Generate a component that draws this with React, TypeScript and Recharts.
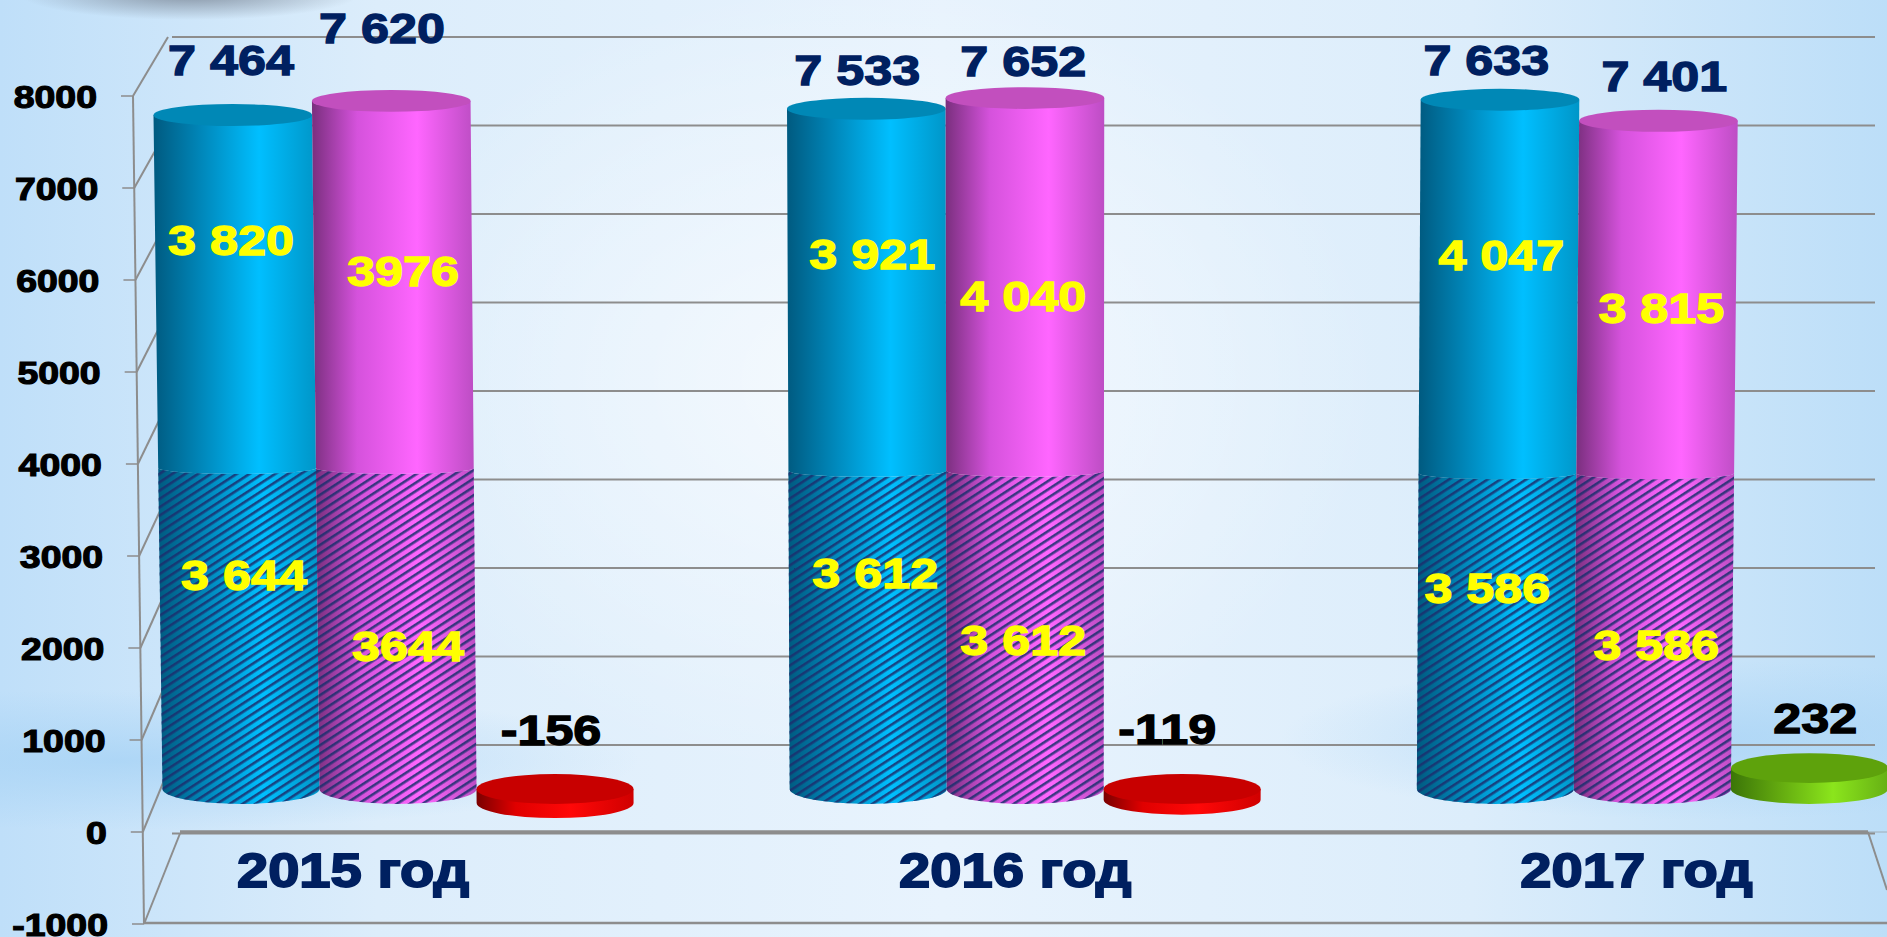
import { BarChart, Bar, XAxis, YAxis, CartesianGrid, LabelList } from "recharts"

const years = ["2015 год", "2016 год", "2017 год"]
const blueLower = [3644, 3612, 3586]
const blueUpper = [3820, 3921, 4047]
const pinkLower = [3644, 3612, 3586]
const pinkUpper = [3976, 4040, 3815]
const balance = [-156, -119, 232]
const axisTicks = [-1000, 0, 1000, 2000, 3000, 4000, 5000, 6000, 7000, 8000]

const blueTotalText = ["7 464", "7 533", "7 633"]
const pinkTotalText = ["7 620", "7 652", "7 401"]
const blueUpperText = ["3 820", "3 921", "4 047"]
const pinkUpperText = ["3976", "4 040", "3 815"]
const blueLowerText = ["3 644", "3 612", "3 586"]
const pinkLowerText = ["3644", "3 612", "3 586"]
const balanceText = ["-156", "-119", "232"]

const data = years.map((year, i) => ({
  year,
  blueLower: blueLower[i],
  blueUpper: blueUpper[i],
  pinkLower: pinkLower[i],
  pinkUpper: pinkUpper[i],
  balance: balance[i],
}))

const W = 1887
const H = 937
const PLOT_TOP = 20
const PLOT_BOTTOM = 930
const FLOOR_Y = 789
const VANISH_X = 1048
const FONT = "'Liberation Sans', Arial, sans-serif"
const GREY = "#8d8d8d"
const STRETCH = 1.17

// the picture is a 3D chart: front axis, back wall and bars each sit on their own scale
const domainFor = (zeroPx: number, pxPer1000: number): [number, number] => [
  ((zeroPx - PLOT_BOTTOM) / pxPer1000) * 1000,
  ((zeroPx - PLOT_TOP) / pxPer1000) * 1000,
]
const frontX = (v: number) => 133 + ((8000 - v) / 9000) * 11
const frontY = (v: number) => 832 - v * 0.092
const wallX = (v: number) => 168 + ((8000 - v) / 9000) * 12
const wallY = (v: number) => 745 - v * 0.0885

const lean = (x: number, y: number) => x + (x - VANISH_X) * 1.51e-5 * (FLOOR_Y - y)
const radiusY = (y: number) => 15 - ((FLOOR_Y - y) / 674) * 4

const tops: Record<string, string> = { blue: "#0088b6", pink: "#c24fbe", red: "#c80000", green: "#5ea20c" }

function Cylinder(props: any) {
  const { x, y, width, height, look, part } = props
  const top = Math.min(y, y + height)
  const bottom = Math.max(y, y + height)
  const seam = 8
  const upTo = part === "lower" ? top + seam : top
  const downTo = part === "upper" ? bottom + seam : bottom
  const lt = lean(x, upTo)
  const rt = lean(x + width, upTo)
  const lb = lean(x, downTo)
  const rb = lean(x + width, downTo)
  const rxT = (rt - lt) / 2
  const rxB = (rb - lb) / 2
  const ryT = part === "lower" ? 6 : radiusY(upTo)
  const ryB = part === "upper" ? 6 : 15
  const d =
    `M${lt},${upTo} L${lb},${downTo} A${rxB},${ryB} 0 0 0 ${rb},${downTo} ` +
    `L${rt},${upTo} ` +
    (part === "lower" ? `A${rxT},${ryT} 0 0 1 ${lt},${upTo} Z` : "Z")
  return (
    <g>
      <path d={d} fill={`url(#body-${look})`} />
      {part === "lower" && <path d={d} fill="url(#hatch)" />}
      {part !== "lower" && <ellipse cx={(lt + rt) / 2} cy={upTo} rx={rxT} ry={ryT} fill={tops[look]} />}
    </g>
  )
}

// the reference type is a heavy Arial pulled wide, hence the stretch and the outline
function WideText({ x, y, size, color, weight, anchor = "middle", children }: any) {
  return (
    <text
      transform={`translate(${x},${y}) scale(${STRETCH},1)`}
      dy="0.36em"
      textAnchor={anchor}
      fontFamily={FONT}
      fontWeight="bold"
      fontSize={size}
      stroke={color}
      strokeWidth={weight}
      fill={color}
    >
      {children}
    </text>
  )
}

function makeLabel(texts: string[], dx: number[], dy: number[], color: string, mode: "mid" | "top") {
  return (p: any) => {
    const i = p.index
    const h = Number(p.height)
    const top = Math.min(Number(p.y), Number(p.y) + h)
    const cy = mode === "mid" ? top + Math.abs(h) / 2 : top
    return (
      <WideText x={Number(p.x) + Number(p.width) / 2 + dx[i]} y={cy + dy[i]} size={43} color={color} weight={1.3}>
        {texts[i]}
      </WideText>
    )
  }
}

function ValueTick(props: any) {
  const v = props.payload.value
  const fx = frontX(v)
  return (
    <g>
      <line x1={fx - 12} y1={props.y} x2={fx} y2={props.y} stroke={GREY} strokeWidth={1.5} />
      <WideText x={fx - 36} y={props.y} size={32} color="#000" weight={1.2} anchor="end">
        {v}
      </WideText>
    </g>
  )
}

const yearShift = [-45, -10, -16]

function YearTick(props: any) {
  return (
    <WideText x={props.x + yearShift[props.index]} y={870} size={48} color="#002060" weight={1.8}>
      {props.payload.value}
    </WideText>
  )
}

function Frame() {
  return (
    <g stroke={GREY} fill="none">
      <line x1={frontX(8000)} y1={frontY(8000)} x2={frontX(-1000)} y2={frontY(-1000)} strokeWidth={2} />
      <line x1={frontX(-1000)} y1={923} x2={W} y2={923} strokeWidth={2.5} />
      <line x1={1868} y1={832} x2={1887} y2={890} strokeWidth={2} />
      <line x1={1868} y1={832} x2={1887} y2={832} strokeWidth={1} opacity={0.6} />
      {axisTicks.map((v) => (
        <line key={v} x1={frontX(v)} y1={frontY(v)} x2={wallX(v)} y2={wallY(v)} strokeWidth={2} />
      ))}
      <line x1={wallX(-1000)} y1={832} x2={1868} y2={832} strokeWidth={3.5} />
    </g>
  )
}

const background = [
  "radial-gradient(ellipse 170px 26px at 190px -6px, rgba(110,120,135,0.75), rgba(110,120,135,0) 100%)",
  "radial-gradient(ellipse 520px 400px at 860px 380px, rgba(255,255,255,0.6), rgba(255,255,255,0) 100%)",
  "radial-gradient(ellipse 520px 70px at 120px 760px, rgba(165,210,245,0.75), rgba(165,210,245,0) 100%)",
  "radial-gradient(ellipse 420px 80px at 1700px 740px, rgba(165,210,245,0.7), rgba(165,210,245,0) 100%)",
  "linear-gradient(90deg, #bfdff9 0%, #dcedfb 20%, #e8f3fd 50%, #dcedfb 78%, #bcdef8 100%)",
].join(", ")

export default function App() {
  return (
    <div style={{ position: "absolute", left: 0, top: 0, width: W, height: H, overflow: "hidden", background }}>
      <BarChart
        width={1966}
        height={H}
        data={data}
        barGap={0}
        barSize={157}
        margin={{ top: PLOT_TOP, right: 0, bottom: 0, left: 0 }}
      >
        <defs>
          <linearGradient id="body-blue" x1="0" y1="0" x2="1" y2="0">
            <stop offset="0%" stopColor="#005a80" />
            <stop offset="30%" stopColor="#0088bb" />
            <stop offset="65%" stopColor="#00bfff" />
            <stop offset="100%" stopColor="#0096c8" />
          </linearGradient>
          <linearGradient id="body-pink" x1="0" y1="0" x2="1" y2="0">
            <stop offset="0%" stopColor="#7a2f7e" />
            <stop offset="28%" stopColor="#d552dc" />
            <stop offset="65%" stopColor="#ff66ff" />
            <stop offset="100%" stopColor="#bd4dc4" />
          </linearGradient>
          <linearGradient id="body-red" x1="0" y1="0" x2="1" y2="0">
            <stop offset="0%" stopColor="#7a0000" />
            <stop offset="25%" stopColor="#e00000" />
            <stop offset="60%" stopColor="#ff0808" />
            <stop offset="100%" stopColor="#d00000" />
          </linearGradient>
          <linearGradient id="body-green" x1="0" y1="0" x2="1" y2="0">
            <stop offset="0%" stopColor="#3b7508" />
            <stop offset="30%" stopColor="#62a80f" />
            <stop offset="65%" stopColor="#8be51c" />
            <stop offset="100%" stopColor="#66b014" />
          </linearGradient>
          <pattern id="hatch" width="7" height="7" patternUnits="userSpaceOnUse" patternTransform="rotate(-33)">
            <rect width="7" height="2.6" fill="#1b2f6e" fillOpacity={0.85} />
          </pattern>
        </defs>
        <CartesianGrid
          yAxisId="wall"
          x={172}
          width={1703}
          vertical={false}
          horizontalValues={axisTicks}
          stroke={GREY}
          strokeWidth={2}
        />
        <XAxis dataKey="year" axisLine={false} tickLine={false} height={7} tick={<YearTick />} interval={0} />
        <YAxis
          yAxisId="front"
          width={84.5}
          allowDataOverflow
          domain={domainFor(832, 92)}
          ticks={axisTicks}
          interval={0}
          axisLine={false}
          tickLine={false}
          tick={<ValueTick />}
        />
        <YAxis yAxisId="wall" hide allowDataOverflow domain={domainFor(745, 88.5)} ticks={axisTicks} />
        <YAxis yAxisId="bars" hide allowDataOverflow domain={domainFor(FLOOR_Y, 90.3)} />
        <Frame />
        <Bar
          yAxisId="bars"
          dataKey="blueLower"
          stackId="blue"
          isAnimationActive={false}
          shape={(p: any) => <Cylinder {...p} look="blue" part="lower" />}
        >
          <LabelList content={makeLabel(blueLowerText, [3, 7, -8], [-50, -53, -40], "#ffff00", "mid")} />
        </Bar>
        <Bar
          yAxisId="bars"
          dataKey="blueUpper"
          stackId="blue"
          isAnimationActive={false}
          shape={(p: any) => <Cylinder {...p} look="blue" part="upper" />}
        >
          <LabelList content={makeLabel(blueUpperText, [-10, 4, 6], [-48, -32, -28], "#ffff00", "mid")} />
          <LabelList content={makeLabel(blueTotalText, [-10, -11, -9], [-55, -39, -40], "#002060", "top")} />
        </Bar>
        <Bar
          yAxisId="bars"
          dataKey="pinkLower"
          stackId="pink"
          isAnimationActive={false}
          shape={(p: any) => <Cylinder {...p} look="pink" part="lower" />}
        >
          <LabelList content={makeLabel(pinkLowerText, [10, -2, 4], [21, 14, 17], "#ffff00", "mid")} />
        </Bar>
        <Bar
          yAxisId="bars"
          dataKey="pinkUpper"
          stackId="pink"
          isAnimationActive={false}
          shape={(p: any) => <Cylinder {...p} look="pink" part="upper" />}
        >
          <LabelList content={makeLabel(pinkUpperText, [5, -2, 9], [-10, 15, 15], "#ffff00", "mid")} />
          <LabelList content={makeLabel(pinkTotalText, [-16, -2, 12], [-73, -38, -45], "#002060", "top")} />
        </Bar>
        <Bar
          yAxisId="bars"
          dataKey="balance"
          isAnimationActive={false}
          shape={(p: any) => <Cylinder {...p} look={p.balance < 0 ? "red" : "green"} part="disc" />}
        >
          <LabelList content={makeLabel(balanceText, [-4, -15, 6], [-59, -60, -51], "#000", "top")} />
        </Bar>
      </BarChart>
    </div>
  )
}
